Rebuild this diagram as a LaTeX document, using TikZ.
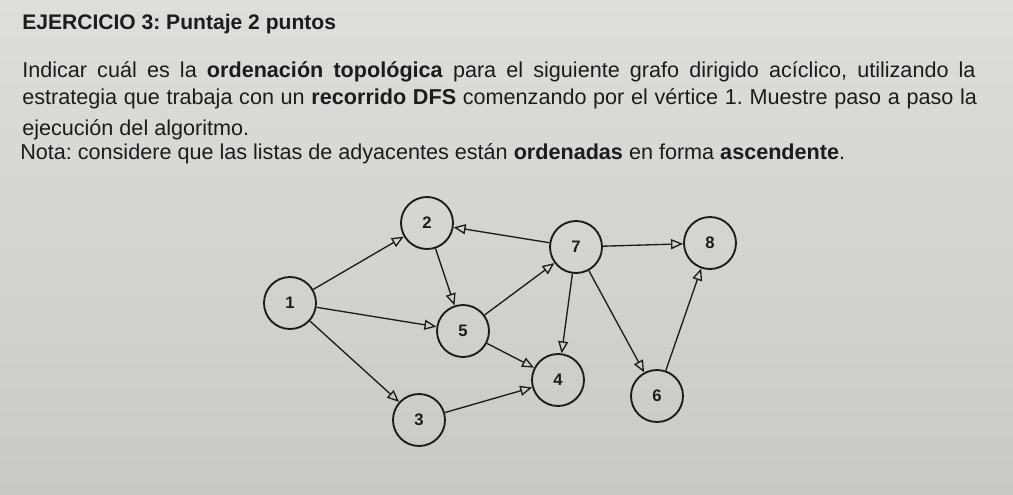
\documentclass[tikz,border=0pt]{standalone}
\usepackage{fontspec}
\setmainfont{Liberation Sans}
\usetikzlibrary{arrows.meta}
\definecolor{paperhi}{RGB}{224,222,218}
\definecolor{paperlo}{RGB}{203,201,197}
\definecolor{ink}{RGB}{28,28,28}
\frenchspacing
\tikzset{
  vertex/.style={circle, draw=ink, line width=1.4pt, minimum size=39pt,
    inner sep=0pt, font=\fontsize{12.5}{13}\selectfont\bfseries, text=ink},
  arc/.style={draw=ink, line width=1pt,
    -{Triangle[open, length=9pt, width=7.5pt]}},
  line/.style={anchor=base west, inner sep=0pt, text=ink,
    font=\fontsize{16.2}{19}\selectfont},
}
\begin{document}
\begin{tikzpicture}[x=0.75pt, y=-0.75pt]
\useasboundingbox (0,0) rectangle (1013,494);
\shade[top color=paperhi, bottom color=paperlo] (0,0) rectangle (1013,494);

% enunciado
\node[line, font=\fontsize{15.8}{19}\selectfont\bfseries] (titulo) at (22,29)
  {EJERCICIO 3: Puntaje 2 puntos};
\node[line] (l1) at (22,77) {\makebox[715pt][s]{Indicar cuál es la
  \textbf{ordenación topológica} para el siguiente grafo dirigido acíclico,
  utilizando la}};
\node[line] (l2) at (22,104) {\makebox[716pt][s]{estrategia que trabaja con un
  \textbf{recorrido DFS} comenzando por el vértice 1. Muestre paso a paso la}};
\node[line] (l3) at (22,135) {ejecución del algoritmo.};
\node[line] (l4) at (20,159) {Nota: considere que las listas de adyacentes
  están \textbf{ordenadas} en forma \textbf{ascendente}.};

% grafo
\node[vertex] (v1) at (290,303) {1};
\node[vertex] (v2) at (427,223) {2};
\node[vertex] (v3) at (419,420) {3};
\node[vertex] (v4) at (558,380) {4};
\node[vertex] (v5) at (463,331) {5};
\node[vertex] (v6) at (657,396) {6};
\node[vertex] (v7) at (576,247) {7};
\node[vertex] (v8) at (710,243) {8};

\draw[arc] (v1) -- (v2);
\draw[arc] (v1) -- (v5);
\draw[arc] (v1) -- (v3);
\draw[arc] (v2) -- (v5);
\draw[arc] (v7) -- (v2);
\draw[arc] (v5) -- (v7);
\draw[arc] (v5) -- (v4);
\draw[arc] (v3) -- (v4);
\draw[arc] (v7) -- (v4);
\draw[arc] (v7) -- (v8);
\draw[arc] (v7) -- (v6);
\draw[arc] (v6) -- (v8);
\end{tikzpicture}
\end{document}
